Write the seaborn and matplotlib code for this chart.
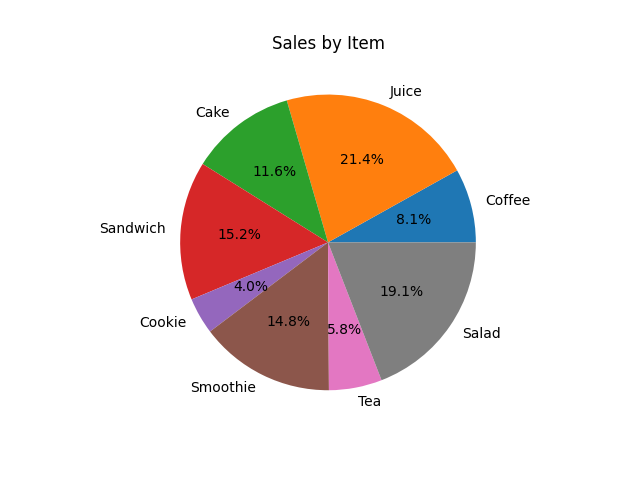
import matplotlib
matplotlib.use("Agg")
import matplotlib.pyplot as plt
import seaborn as sns

# Satış verisi (yüzdeler)
urunler = ["Coffee", "Juice", "Cake", "Sandwich", "Cookie", "Smoothie", "Tea", "Salad"]
satislar = [8.1, 21.4, 11.6, 15.2, 4.0, 14.8, 5.8, 19.1]

renkler = sns.color_palette("tab10", len(urunler))

fig, ax = plt.subplots(figsize=(6.4, 4.8), dpi=100)
ax.pie(satislar, labels=urunler, colors=renkler, autopct="%1.1f%%")
ax.set_title("Sales by Item")
plt.savefig("out.png")
plt.close()
